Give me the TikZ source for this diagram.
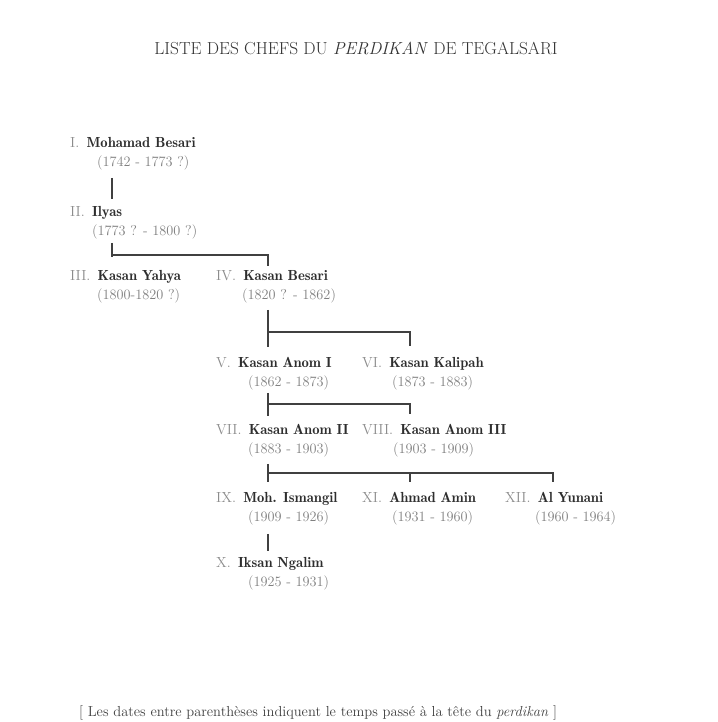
\documentclass[tikz,border=0pt]{standalone}
\usetikzlibrary{calc}
\tikzset{
  chef/.style={anchor=base west, inner sep=0pt, text=black!82, font=\fontsize{14.6}{17}\selectfont},
  annee/.style={anchor=base west, inner sep=0pt, text=black!50, font=\fontsize{14.3}{16}\selectfont},
  lien/.style={line width=1.7pt, black!75},
}
\newcommand{\rang}[1]{\textcolor{black!45}{#1}}

\begin{document}
\begin{tikzpicture}[x=1pt,y=-1pt]
\useasboundingbox[fill=white] (0,0) rectangle (717,722);
\node[anchor=base, inner sep=0pt, text=black!80, font=\fontsize{17.4}{20}\selectfont] (titre) at (356,55) {LISTE DES CHEFS DU \textit{PERDIKAN} DE TEGALSARI};

\foreach \id/\x/\y/\rg/\nom/\an/\dx in {
    c1/70/148/I./Mohamad Besari/(1742 - 1773 ?)/27,
    c2/70/216/II./Ilyas/(1773 ? - 1800 ?)/22,
    c3/70/280/III./Kasan Yahya/(1800-1820 ?)/27,
    c4/216/280/IV./Kasan Besari/(1820 ? - 1862)/26,
    c5/216/367/V./Kasan Anom I/(1862 - 1873)/32,
    c6/362/367/VI./Kasan Kalipah/(1873 - 1883)/30,
    c7/216/434/VII./Kasan Anom II/(1883 - 1903)/32,
    c8/362/434/VIII./Kasan Anom III/(1903 - 1909)/31,
    c9/216/502/IX./Moh. Ismangil/(1909 - 1926)/32,
    c11/362/502/XI./Ahmad Amin/(1931 - 1960)/30,
    c12/505/502/XII./Al Yunani/(1960 - 1964)/30,
    c10/216/567/X./Iksan Ngalim/(1925 - 1931)/32} {
    \node[chef] (\id) at (\x,\y) {\rang{\rg}\ \hspace{2.5pt}{\fontseries{b}\selectfont\nom}};
    \node[annee] (\id-d) at (\x+\dx,\y+19) {\an};
}

\coordinate (j2) at (112,255);
\coordinate (j4) at (268,332);
\coordinate (j5) at (268,404);
\coordinate (j7) at (268,473);
\coordinate (m1) at (410,0);
\coordinate (m2) at (553,0);

\draw[lien] ($(c1-d.south -| j2)+(0,7)$) -- ($(c2.north -| j2)+(0,-7)$);
\draw[lien] ($(c2-d.south -| j2)+(0,4)$) -- ($(c3.north -| j2)+(0,-13)$);
\draw[lien] (j2) -| ($(c4.north -| j4)+(0,-4)$);
\draw[lien] ($(c4-d.south -| j4)+(0,7)$) -- ($(c5.north -| j4)+(0,-10)$);
\draw[lien] (j4) -| ($(c6.north -| m1)+(0,-11)$);
\draw[lien] ($(c5-d.south -| j5)+(0,3)$) -- ($(c7.north -| j5)+(0,-8)$);
\draw[lien] (j5) -| ($(c8.north -| m1)+(0,-10)$);
\draw[lien] ($(c7-d.south -| j7)+(0,7)$) -- ($(c9.north -| j7)+(0,-10)$);
\draw[lien] (j7) -| ($(c12.north -| m2)+(0,-10)$);
\draw[lien] (j7 -| m1) -- ($(c11.north -| m1)+(0,-10)$);
\draw[lien] ($(c9-d.south -| j7)+(0,9)$) -- ($(c10.north -| j7)+(0,-6)$);

\node[anchor=base west, inner sep=0pt, text=black!75, font=\fontsize{14.5}{17}\selectfont] (note) at (79,716) {[ Les dates entre parenthèses indiquent le temps passé à la tête du \textit{perdikan} ]};
\end{tikzpicture}
\end{document}
